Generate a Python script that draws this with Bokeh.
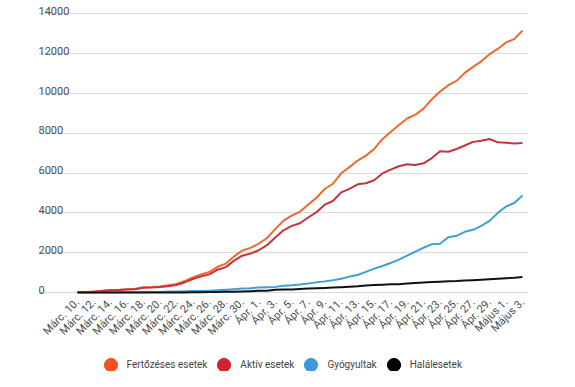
from math import pi
from bokeh.plotting import figure
from bokeh.layouts import column
from bokeh.models import Range1d, FixedTicker, Label, Legend, LegendItem
from bokeh.embed import file_html
from bokeh.resources import INLINE

# day index 0 = Márc. 10., 54 = Május 3.
days = list(range(55))

tick_labels = ["Márc. 10.", "Márc. 12.", "Márc. 14.", "Márc. 16.", "Márc. 18.", "Márc. 20.",
               "Márc. 22.", "Márc. 24.", "Márc. 26.", "Márc. 28.", "Márc. 30.",
               "Ápr. 1.", "Ápr. 3.", "Ápr. 5.", "Ápr. 7.", "Ápr. 9.", "Ápr. 11.", "Ápr. 13.",
               "Ápr. 15.", "Ápr. 17.", "Ápr. 19.", "Ápr. 21.", "Ápr. 23.", "Ápr. 25.",
               "Ápr. 27.", "Ápr. 29.", "Május 1.", "Május 3."]

confirmed = [25, 29, 45, 89, 123, 131, 158, 184, 260, 277, 308, 367, 433, 576, 762, 906,
             1029, 1292, 1452, 1815, 2109, 2245, 2460, 2738, 3183, 3613, 3864, 4057, 4417,
             4761, 5202, 5467, 5990, 6300, 6633, 6879, 7216, 7707, 8067, 8418, 8746, 8936,
             9242, 9710, 10096, 10417, 10635, 11036, 11339, 11616, 11978, 12240, 12567,
             12732, 13163]

active = [22, 23, 39, 80, 114, 122, 149, 168, 241, 252, 277, 315, 379, 506, 678, 810, 912,
          1148, 1276, 1603, 1851, 1956, 2123, 2378, 2767, 3127, 3348, 3481, 3770, 4036,
          4413, 4599, 5030, 5209, 5437, 5488, 5644, 5985, 6176, 6347, 6445, 6408, 6494,
          6756, 7101, 7070, 7210, 7387, 7570, 7625, 7715, 7547, 7527, 7488, 7510]

recovered = [3, 6, 6, 9, 9, 9, 9, 16, 19, 25, 31, 52, 52, 64, 73, 79, 94, 115, 139, 169,
             206, 220, 252, 266, 283, 340, 365, 400, 450, 510, 560, 620, 690, 800, 880,
             1040, 1200, 1330, 1480, 1650, 1850, 2050, 2250, 2430, 2450, 2780, 2850, 3050,
             3150, 3350, 3600, 4000, 4320, 4500, 4870]

deaths = [0, 0, 0, 0, 0, 0, 0, 0, 0, 0, 0, 0, 2, 6, 11, 17, 23, 29, 37, 43, 52, 69, 85, 94,
          133, 146, 151, 176, 197, 215, 229, 248, 270, 291, 316, 351, 372, 392, 411, 421,
          451, 478, 498, 524, 545, 567, 575, 599, 619, 641, 663, 693, 720, 744, 783]

series_names = ["Fertőzéses esetek", "Aktív esetek", "Gyógyultak", "Halálesetek"]
line_colors = ["#EE6A2C", "#C23440", "#40A0D2", "#111111"]
legend_colors = ["#F4511E", "#D0222F", "#3A9BDC", "#000000"]

yticks = [0, 2000, 4000, 6000, 8000, 10000, 12000, 14000]
ytick_labels = ["0", "2000", "4000", "6000", "8000", "10000", "12000", "14000"]

FONT = "Roboto"

# ---------------- main chart ----------------
x_range = Range1d(-4.73, 54.73)
p = figure(width=559, height=345, x_range=x_range, y_range=Range1d(-150, 14674),
           output_backend="svg", toolbar_location=None, title=None,
           min_border_left=38, min_border_right=31, min_border_top=0, min_border_bottom=48)
p.outline_line_color = None
p.background_fill_color = "white"
p.border_fill_color = "white"

p.yaxis.visible = False
p.xgrid.visible = False
p.ygrid.ticker = FixedTicker(ticks=yticks)
p.ygrid.grid_line_color = "#dadada"
p.ygrid.grid_line_width = 1

xa = p.xaxis[0]
tick_pos = days[::2]
xa.ticker = FixedTicker(ticks=tick_pos)
xa.major_label_overrides = {d: lab for d, lab in zip(tick_pos, tick_labels)}
xa.major_label_orientation = pi / 4
xa.major_label_text_font = FONT
xa.major_label_text_font_size = "11px"
xa.major_label_text_color = "#4d4d4d"
xa.major_label_standoff = 5
xa.axis_line_color = None
xa.major_tick_line_color = None
xa.minor_tick_line_color = None
xa.major_tick_out = 0

for vals, col in zip([confirmed, active, recovered, deaths], line_colors):
    p.line(days, vals, line_width=2, color=col, line_join="round")

for v, txt in zip(yticks, ytick_labels):
    p.add_layout(Label(x=x_range.start, y=v, text=txt, text_baseline="alphabetic", y_offset=3,
                       text_font=FONT, text_font_size="11px", text_color="#4d4d4d"))

# ---------------- legend strip ----------------
lg = figure(width=559, height=26, x_range=Range1d(0, 1), y_range=Range1d(0, 1),
            output_backend="svg", toolbar_location=None, title=None,
            x_axis_type=None, y_axis_type=None,
            min_border_left=0, min_border_right=0, min_border_top=0, min_border_bottom=0)
lg.outline_line_color = None
lg.grid.visible = False

items = []
for name, col in zip(series_names, legend_colors):
    # placeholder point outside the visible range; only its legend swatch is shown
    r = lg.scatter(x=[-10], y=[-10], marker="circle", fill_color=col, line_color=col)
    items.append(LegendItem(label=name, renderers=[r]))

legend = Legend(items=items, location=(55.5, -10), orientation="horizontal",
                glyph_width=33, glyph_height=33, label_standoff=0, spacing=0,
                padding=0, margin=0, background_fill_alpha=0, border_line_color=None,
                label_text_font=FONT, label_text_font_size="10px",
                label_text_color="#444444", label_text_baseline="middle")
lg.add_layout(legend, "center")

layout = column(p, lg, spacing=0)
open("out.html", "w").write(file_html(layout, INLINE))
